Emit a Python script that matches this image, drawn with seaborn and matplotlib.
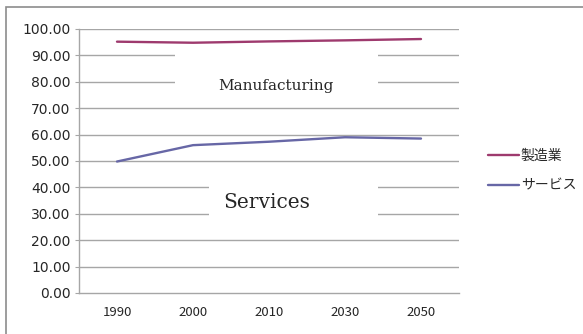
import matplotlib
matplotlib.use("Agg")
import matplotlib.pyplot as plt
from matplotlib.patches import Rectangle
import seaborn as sns
import pandas as pd

# data
years = ["1990", "2000", "2010", "2030", "2050"]
manufacturing = [95.2, 94.8, 95.3, 95.7, 96.2]
services = [49.8, 56.0, 57.3, 59.0, 58.5]
series_names = ["製造業", "サービス"]
y_ticks = [0, 10, 20, 30, 40, 50, 60, 70, 80, 90, 100]

COLORS = {"製造業": "#9E3A6E", "サービス": "#6767A6"}
GRID = "#A6A6A6"

df = pd.DataFrame({
    "year": years * 2,
    "value": manufacturing + services,
    "series": [series_names[0]] * len(years) + [series_names[1]] * len(years),
})

sns.set_style("white")
plt.rcParams["font.family"] = ["Noto Sans CJK JP", "DejaVu Sans"]

fig = plt.figure(figsize=(5.83, 3.34), dpi=100)
ax = fig.add_axes([79 / 583, 41 / 334, 380 / 583, 264 / 334])

# outer chart border
fig.patches.append(Rectangle((6 / 583, -0.05), 1.0, 1 - 7 / 334 + 0.05,
                             transform=fig.transFigure, fill=False,
                             edgecolor="#8C8C8C", linewidth=1.2))

for t in y_ticks[1:]:
    ax.axhline(t, color=GRID, linewidth=1.0, zorder=1)

# white boxes behind the labels (they cut the gridlines)
ax.add_patch(Rectangle((0.2526, 0.731), 0.535, 0.19, transform=ax.transAxes,
                       facecolor="white", edgecolor="none", zorder=2))
ax.add_patch(Rectangle((0.342, 0.258), 0.446, 0.215, transform=ax.transAxes,
                       facecolor="white", edgecolor="none", zorder=2))

sns.lineplot(data=df, x="year", y="value", hue="series", palette=COLORS,
             linewidth=1.7, sort=False, ax=ax, zorder=3)

ax.text(0.518, 0.784, "Manufacturing", transform=ax.transAxes, ha="center",
        va="center", fontsize=11, family="DejaVu Serif", zorder=4)
ax.text(0.495, 0.341, "Services", transform=ax.transAxes, ha="center",
        va="center", fontsize=14.5, family="DejaVu Serif", zorder=4)

ax.set_xlim(-0.5, len(years) - 0.5)
ax.set_ylim(0, 100)
ax.set_yticks(y_ticks)
ax.set_yticklabels([f"{v:.2f}" for v in y_ticks], fontsize=10,
                   family="DejaVu Sans")
ax.set_xticks(range(len(years)))
ax.set_xticklabels(years, fontsize=9.5)
ax.set_xticks([i - 0.5 for i in range(len(years) + 1)], minor=True)
ax.tick_params(axis="x", which="major", length=0, pad=9)
ax.tick_params(axis="x", which="minor", length=3, color=GRID, direction="out")
ax.tick_params(axis="y", length=3, color=GRID, direction="out", pad=3, left=True)
ax.set_xlabel("")
ax.set_ylabel("")

for side in ["top", "right"]:
    ax.spines[side].set_visible(False)
for side in ["left", "bottom"]:
    ax.spines[side].set_color(GRID)
    ax.spines[side].set_linewidth(1.0)

ax.legend(loc="center left", bbox_to_anchor=(488 / 583, 0.4895),
          bbox_transform=fig.transFigure, frameon=False, fontsize=10,
          borderaxespad=0, borderpad=0,
          handlelength=2.2, handletextpad=0.15, labelspacing=1.15)

fig.savefig("out.png", dpi=100)
